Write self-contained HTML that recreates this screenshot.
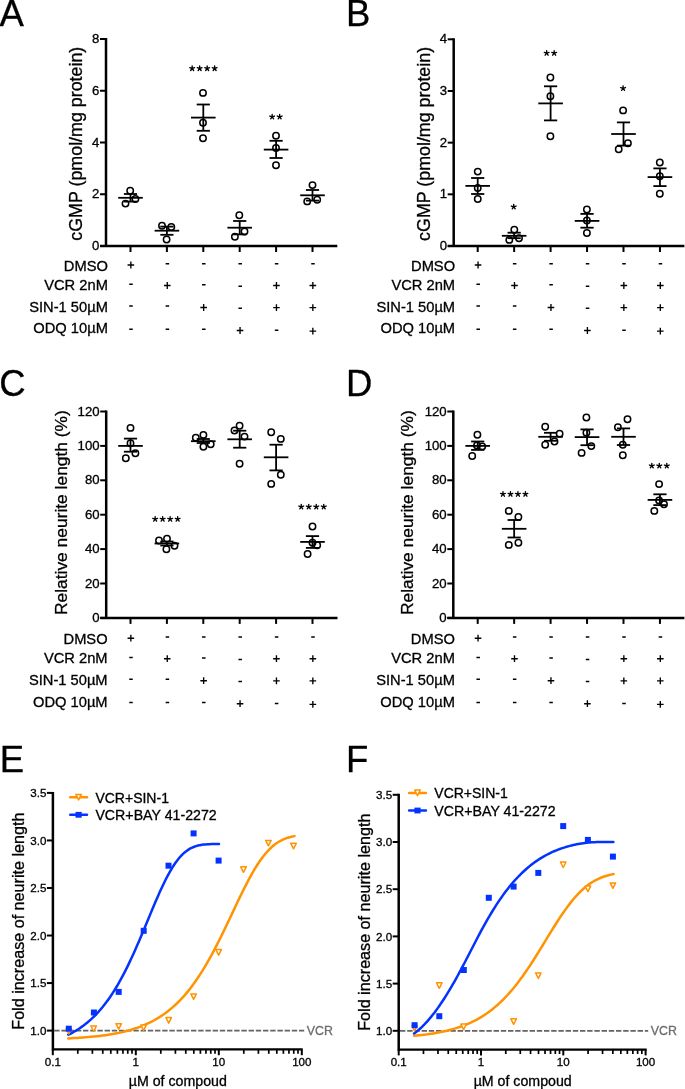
<!DOCTYPE html>
<html><head><meta charset="utf-8"><title>Figure</title>
<style>
html,body{margin:0;padding:0;background:#fff;}
body{width:685px;height:1089px;overflow:hidden;}
svg{display:block;font-family:"Liberation Sans", sans-serif;will-change:transform;}
</style></head>
<body>
<svg width="685" height="1089" viewBox="0 0 685 1089">
<rect width="685" height="1089" fill="#fff"/>
<text x="-0.50" y="25.80" font-size="36.5" text-anchor="start" fill="#000" stroke="#000" stroke-width="0.3" >A</text>
<text x="346.00" y="25.60" font-size="36.5" text-anchor="start" fill="#000" stroke="#000" stroke-width="0.3" >B</text>
<text x="-0.80" y="395.50" font-size="36.5" text-anchor="start" fill="#000" stroke="#000" stroke-width="0.3" >C</text>
<text x="346.00" y="395.50" font-size="36.5" text-anchor="start" fill="#000" stroke="#000" stroke-width="0.3" >D</text>
<text x="-0.30" y="771.90" font-size="36.5" text-anchor="start" fill="#000" stroke="#000" stroke-width="0.3" >E</text>
<text x="346.00" y="771.90" font-size="36.5" text-anchor="start" fill="#000" stroke="#000" stroke-width="0.3" >F</text>
<line x1="106.00" y1="38.00" x2="106.00" y2="246.00" stroke="#000" stroke-width="2.5" />
<line x1="100.00" y1="246.00" x2="337.30" y2="246.00" stroke="#000" stroke-width="2.5" />
<line x1="100.00" y1="246.00" x2="106.00" y2="246.00" stroke="#000" stroke-width="2" />
<text x="99.40" y="250.10" font-size="13.2" text-anchor="end" fill="#000" stroke="#000" stroke-width="0.3" >0</text>
<line x1="100.00" y1="194.25" x2="106.00" y2="194.25" stroke="#000" stroke-width="2" />
<text x="99.40" y="198.35" font-size="13.2" text-anchor="end" fill="#000" stroke="#000" stroke-width="0.3" >2</text>
<line x1="100.00" y1="142.50" x2="106.00" y2="142.50" stroke="#000" stroke-width="2" />
<text x="99.40" y="146.60" font-size="13.2" text-anchor="end" fill="#000" stroke="#000" stroke-width="0.3" >4</text>
<line x1="100.00" y1="90.75" x2="106.00" y2="90.75" stroke="#000" stroke-width="2" />
<text x="99.40" y="94.85" font-size="13.2" text-anchor="end" fill="#000" stroke="#000" stroke-width="0.3" >6</text>
<line x1="100.00" y1="39.00" x2="106.00" y2="39.00" stroke="#000" stroke-width="2" />
<text x="99.40" y="43.10" font-size="13.2" text-anchor="end" fill="#000" stroke="#000" stroke-width="0.3" >8</text>
<line x1="130.50" y1="246.00" x2="130.50" y2="252.00" stroke="#000" stroke-width="2" />
<line x1="166.90" y1="246.00" x2="166.90" y2="252.00" stroke="#000" stroke-width="2" />
<line x1="203.30" y1="246.00" x2="203.30" y2="252.00" stroke="#000" stroke-width="2" />
<line x1="239.70" y1="246.00" x2="239.70" y2="252.00" stroke="#000" stroke-width="2" />
<line x1="276.10" y1="246.00" x2="276.10" y2="252.00" stroke="#000" stroke-width="2" />
<line x1="312.50" y1="246.00" x2="312.50" y2="252.00" stroke="#000" stroke-width="2" />
<text transform="translate(82.30,143.70) rotate(-90)" font-size="17.85" text-anchor="middle" stroke="#000" stroke-width="0.3">cGMP (pmol/mg protein)</text>
<line x1="130.50" y1="194.00" x2="130.50" y2="201.60" stroke="#000" stroke-width="1.8" />
<line x1="123.90" y1="194.00" x2="137.10" y2="194.00" stroke="#000" stroke-width="1.8" />
<line x1="123.90" y1="201.60" x2="137.10" y2="201.60" stroke="#000" stroke-width="1.8" />
<line x1="118.20" y1="197.80" x2="142.80" y2="197.80" stroke="#000" stroke-width="1.8" />
<circle cx="130.20" cy="190.80" r="3.2" fill="none" stroke="#000" stroke-width="1.5"/>
<circle cx="135.40" cy="199.00" r="3.2" fill="none" stroke="#000" stroke-width="1.5"/>
<circle cx="125.50" cy="203.60" r="3.2" fill="none" stroke="#000" stroke-width="1.5"/>
<line x1="166.90" y1="226.60" x2="166.90" y2="234.80" stroke="#000" stroke-width="1.8" />
<line x1="160.30" y1="226.60" x2="173.50" y2="226.60" stroke="#000" stroke-width="1.8" />
<line x1="160.30" y1="234.80" x2="173.50" y2="234.80" stroke="#000" stroke-width="1.8" />
<line x1="154.60" y1="230.70" x2="179.20" y2="230.70" stroke="#000" stroke-width="1.8" />
<circle cx="162.00" cy="225.80" r="3.2" fill="none" stroke="#000" stroke-width="1.5"/>
<circle cx="171.30" cy="227.00" r="3.2" fill="none" stroke="#000" stroke-width="1.5"/>
<circle cx="166.60" cy="239.50" r="3.2" fill="none" stroke="#000" stroke-width="1.5"/>
<line x1="203.30" y1="104.50" x2="203.30" y2="130.80" stroke="#000" stroke-width="1.8" />
<line x1="196.70" y1="104.50" x2="209.90" y2="104.50" stroke="#000" stroke-width="1.8" />
<line x1="196.70" y1="130.80" x2="209.90" y2="130.80" stroke="#000" stroke-width="1.8" />
<line x1="191.00" y1="117.60" x2="215.60" y2="117.60" stroke="#000" stroke-width="1.8" />
<circle cx="203.00" cy="92.90" r="3.2" fill="none" stroke="#000" stroke-width="1.5"/>
<circle cx="203.00" cy="122.70" r="3.2" fill="none" stroke="#000" stroke-width="1.5"/>
<circle cx="203.00" cy="138.20" r="3.2" fill="none" stroke="#000" stroke-width="1.5"/>
<line x1="239.70" y1="221.00" x2="239.70" y2="234.40" stroke="#000" stroke-width="1.8" />
<line x1="233.10" y1="221.00" x2="246.30" y2="221.00" stroke="#000" stroke-width="1.8" />
<line x1="233.10" y1="234.40" x2="246.30" y2="234.40" stroke="#000" stroke-width="1.8" />
<line x1="227.40" y1="227.70" x2="252.00" y2="227.70" stroke="#000" stroke-width="1.8" />
<circle cx="239.30" cy="215.20" r="3.2" fill="none" stroke="#000" stroke-width="1.5"/>
<circle cx="244.50" cy="231.50" r="3.2" fill="none" stroke="#000" stroke-width="1.5"/>
<circle cx="234.90" cy="236.80" r="3.2" fill="none" stroke="#000" stroke-width="1.5"/>
<line x1="276.10" y1="140.80" x2="276.10" y2="158.00" stroke="#000" stroke-width="1.8" />
<line x1="269.50" y1="140.80" x2="282.70" y2="140.80" stroke="#000" stroke-width="1.8" />
<line x1="269.50" y1="158.00" x2="282.70" y2="158.00" stroke="#000" stroke-width="1.8" />
<line x1="263.80" y1="149.60" x2="288.40" y2="149.60" stroke="#000" stroke-width="1.8" />
<circle cx="276.00" cy="135.70" r="3.2" fill="none" stroke="#000" stroke-width="1.5"/>
<circle cx="276.00" cy="148.00" r="3.2" fill="none" stroke="#000" stroke-width="1.5"/>
<circle cx="276.00" cy="165.30" r="3.2" fill="none" stroke="#000" stroke-width="1.5"/>
<line x1="312.50" y1="190.00" x2="312.50" y2="200.60" stroke="#000" stroke-width="1.8" />
<line x1="305.90" y1="190.00" x2="319.10" y2="190.00" stroke="#000" stroke-width="1.8" />
<line x1="305.90" y1="200.60" x2="319.10" y2="200.60" stroke="#000" stroke-width="1.8" />
<line x1="300.20" y1="195.30" x2="324.80" y2="195.30" stroke="#000" stroke-width="1.8" />
<circle cx="312.50" cy="185.10" r="3.2" fill="none" stroke="#000" stroke-width="1.5"/>
<circle cx="307.20" cy="201.40" r="3.2" fill="none" stroke="#000" stroke-width="1.5"/>
<circle cx="317.20" cy="199.70" r="3.2" fill="none" stroke="#000" stroke-width="1.5"/>
<path d="M192.15,68.50L192.15,66.00M192.15,68.50L194.53,67.73M192.15,68.50L193.62,70.52M192.15,68.50L190.68,70.52M192.15,68.50L189.77,67.73M199.65,68.50L199.65,66.00M199.65,68.50L202.03,67.73M199.65,68.50L201.12,70.52M199.65,68.50L198.18,70.52M199.65,68.50L197.27,67.73M207.15,68.50L207.15,66.00M207.15,68.50L209.53,67.73M207.15,68.50L208.62,70.52M207.15,68.50L205.68,70.52M207.15,68.50L204.77,67.73M214.65,68.50L214.65,66.00M214.65,68.50L217.03,67.73M214.65,68.50L216.12,70.52M214.65,68.50L213.18,70.52M214.65,68.50L212.27,67.73" stroke="#000" stroke-width="1.35" stroke-linecap="round" fill="none"/>
<path d="M272.15,116.80L272.15,114.30M272.15,116.80L274.53,116.03M272.15,116.80L273.62,118.82M272.15,116.80L270.68,118.82M272.15,116.80L269.77,116.03M279.65,116.80L279.65,114.30M279.65,116.80L282.03,116.03M279.65,116.80L281.12,118.82M279.65,116.80L278.18,118.82M279.65,116.80L277.27,116.03" stroke="#000" stroke-width="1.35" stroke-linecap="round" fill="none"/>
<text x="107.90" y="270.80" font-size="14.7" text-anchor="end" fill="#000" stroke="#000" stroke-width="0.3" >DMSO</text>
<text x="107.90" y="290.30" font-size="14.7" text-anchor="end" fill="#000" stroke="#000" stroke-width="0.3" >VCR 2nM</text>
<text x="107.90" y="312.20" font-size="14.7" text-anchor="end" fill="#000" stroke="#000" stroke-width="0.3" >SIN-1 50µM</text>
<text x="107.90" y="332.70" font-size="14.7" text-anchor="end" fill="#000" stroke="#000" stroke-width="0.3" >ODQ 10µM</text>
<path d="M127.55,265.00H134.15M130.85,261.60V268.40M163.95,285.50H170.55M167.25,282.10V288.90M273.15,285.50H279.75M276.45,282.10V288.90M309.55,285.50H316.15M312.85,282.10V288.90M200.35,307.50H206.95M203.65,304.10V310.90M273.15,307.60H279.75M276.45,304.20V311.00M309.55,307.60H316.15M312.85,304.20V311.00M236.75,330.50H243.35M240.05,327.10V333.90M309.55,331.10H316.15M312.85,327.70V334.50" stroke="#000" stroke-width="1.35" fill="none"/>
<path d="M165.65,263.80H169.15M202.05,263.80H205.55M238.45,263.80H241.95M274.85,263.80H278.35M311.25,263.80H314.75M129.25,284.20H132.75M202.05,284.80H205.55M238.45,286.30H241.95M129.25,306.00H132.75M165.65,306.10H169.15M238.45,308.20H241.95M129.25,329.30H132.75M165.65,329.30H169.15M202.05,329.30H205.55M274.85,330.20H278.35" stroke="#000" stroke-width="1.5" fill="none"/>
<line x1="453.70" y1="38.30" x2="453.70" y2="246.00" stroke="#000" stroke-width="2.5" />
<line x1="447.70" y1="246.00" x2="684.40" y2="246.00" stroke="#000" stroke-width="2.5" />
<line x1="447.70" y1="246.00" x2="453.70" y2="246.00" stroke="#000" stroke-width="2" />
<text x="447.10" y="250.10" font-size="13.2" text-anchor="end" fill="#000" stroke="#000" stroke-width="0.3" >0</text>
<line x1="447.70" y1="194.32" x2="453.70" y2="194.32" stroke="#000" stroke-width="2" />
<text x="447.10" y="198.42" font-size="13.2" text-anchor="end" fill="#000" stroke="#000" stroke-width="0.3" >1</text>
<line x1="447.70" y1="142.65" x2="453.70" y2="142.65" stroke="#000" stroke-width="2" />
<text x="447.10" y="146.75" font-size="13.2" text-anchor="end" fill="#000" stroke="#000" stroke-width="0.3" >2</text>
<line x1="447.70" y1="90.98" x2="453.70" y2="90.98" stroke="#000" stroke-width="2" />
<text x="447.10" y="95.08" font-size="13.2" text-anchor="end" fill="#000" stroke="#000" stroke-width="0.3" >3</text>
<line x1="447.70" y1="39.30" x2="453.70" y2="39.30" stroke="#000" stroke-width="2" />
<text x="447.10" y="43.40" font-size="13.2" text-anchor="end" fill="#000" stroke="#000" stroke-width="0.3" >4</text>
<line x1="477.70" y1="246.00" x2="477.70" y2="252.00" stroke="#000" stroke-width="2" />
<line x1="514.15" y1="246.00" x2="514.15" y2="252.00" stroke="#000" stroke-width="2" />
<line x1="550.60" y1="246.00" x2="550.60" y2="252.00" stroke="#000" stroke-width="2" />
<line x1="587.05" y1="246.00" x2="587.05" y2="252.00" stroke="#000" stroke-width="2" />
<line x1="623.50" y1="246.00" x2="623.50" y2="252.00" stroke="#000" stroke-width="2" />
<line x1="659.95" y1="246.00" x2="659.95" y2="252.00" stroke="#000" stroke-width="2" />
<text transform="translate(429.50,143.90) rotate(-90)" font-size="17.85" text-anchor="middle" stroke="#000" stroke-width="0.3">cGMP (pmol/mg protein)</text>
<line x1="477.70" y1="178.00" x2="477.70" y2="194.00" stroke="#000" stroke-width="1.8" />
<line x1="471.10" y1="178.00" x2="484.30" y2="178.00" stroke="#000" stroke-width="1.8" />
<line x1="471.10" y1="194.00" x2="484.30" y2="194.00" stroke="#000" stroke-width="1.8" />
<line x1="465.40" y1="185.90" x2="490.00" y2="185.90" stroke="#000" stroke-width="1.8" />
<circle cx="477.75" cy="171.60" r="3.2" fill="none" stroke="#000" stroke-width="1.5"/>
<circle cx="477.75" cy="188.00" r="3.2" fill="none" stroke="#000" stroke-width="1.5"/>
<circle cx="477.75" cy="199.00" r="3.2" fill="none" stroke="#000" stroke-width="1.5"/>
<line x1="514.15" y1="232.70" x2="514.15" y2="238.20" stroke="#000" stroke-width="1.8" />
<line x1="507.55" y1="232.70" x2="520.75" y2="232.70" stroke="#000" stroke-width="1.8" />
<line x1="507.55" y1="238.20" x2="520.75" y2="238.20" stroke="#000" stroke-width="1.8" />
<line x1="501.85" y1="235.80" x2="526.45" y2="235.80" stroke="#000" stroke-width="1.8" />
<circle cx="514.30" cy="229.80" r="3.2" fill="none" stroke="#000" stroke-width="1.5"/>
<circle cx="509.30" cy="239.90" r="3.2" fill="none" stroke="#000" stroke-width="1.5"/>
<circle cx="519.00" cy="238.20" r="3.2" fill="none" stroke="#000" stroke-width="1.5"/>
<line x1="550.60" y1="86.30" x2="550.60" y2="120.40" stroke="#000" stroke-width="1.8" />
<line x1="544.00" y1="86.30" x2="557.20" y2="86.30" stroke="#000" stroke-width="1.8" />
<line x1="544.00" y1="120.40" x2="557.20" y2="120.40" stroke="#000" stroke-width="1.8" />
<line x1="538.30" y1="103.40" x2="562.90" y2="103.40" stroke="#000" stroke-width="1.8" />
<circle cx="550.40" cy="77.50" r="3.2" fill="none" stroke="#000" stroke-width="1.5"/>
<circle cx="550.40" cy="96.30" r="3.2" fill="none" stroke="#000" stroke-width="1.5"/>
<circle cx="550.40" cy="136.20" r="3.2" fill="none" stroke="#000" stroke-width="1.5"/>
<line x1="587.05" y1="213.90" x2="587.05" y2="227.70" stroke="#000" stroke-width="1.8" />
<line x1="580.45" y1="213.90" x2="593.65" y2="213.90" stroke="#000" stroke-width="1.8" />
<line x1="580.45" y1="227.70" x2="593.65" y2="227.70" stroke="#000" stroke-width="1.8" />
<line x1="574.75" y1="220.90" x2="599.35" y2="220.90" stroke="#000" stroke-width="1.8" />
<circle cx="586.90" cy="209.50" r="3.2" fill="none" stroke="#000" stroke-width="1.5"/>
<circle cx="586.90" cy="220.50" r="3.2" fill="none" stroke="#000" stroke-width="1.5"/>
<circle cx="586.90" cy="233.00" r="3.2" fill="none" stroke="#000" stroke-width="1.5"/>
<line x1="623.50" y1="122.40" x2="623.50" y2="145.60" stroke="#000" stroke-width="1.8" />
<line x1="616.90" y1="122.40" x2="630.10" y2="122.40" stroke="#000" stroke-width="1.8" />
<line x1="616.90" y1="145.60" x2="630.10" y2="145.60" stroke="#000" stroke-width="1.8" />
<line x1="611.20" y1="134.00" x2="635.80" y2="134.00" stroke="#000" stroke-width="1.8" />
<circle cx="623.10" cy="110.40" r="3.2" fill="none" stroke="#000" stroke-width="1.5"/>
<circle cx="627.90" cy="143.20" r="3.2" fill="none" stroke="#000" stroke-width="1.5"/>
<circle cx="618.70" cy="149.30" r="3.2" fill="none" stroke="#000" stroke-width="1.5"/>
<line x1="659.95" y1="168.40" x2="659.95" y2="186.10" stroke="#000" stroke-width="1.8" />
<line x1="653.35" y1="168.40" x2="666.55" y2="168.40" stroke="#000" stroke-width="1.8" />
<line x1="653.35" y1="186.10" x2="666.55" y2="186.10" stroke="#000" stroke-width="1.8" />
<line x1="647.65" y1="177.10" x2="672.25" y2="177.10" stroke="#000" stroke-width="1.8" />
<circle cx="659.80" cy="162.50" r="3.2" fill="none" stroke="#000" stroke-width="1.5"/>
<circle cx="659.80" cy="176.30" r="3.2" fill="none" stroke="#000" stroke-width="1.5"/>
<circle cx="659.80" cy="193.80" r="3.2" fill="none" stroke="#000" stroke-width="1.5"/>
<path d="M513.70,206.80L513.70,204.30M513.70,206.80L516.08,206.03M513.70,206.80L515.17,208.82M513.70,206.80L512.23,208.82M513.70,206.80L511.32,206.03" stroke="#000" stroke-width="1.35" stroke-linecap="round" fill="none"/>
<path d="M546.65,53.20L546.65,50.70M546.65,53.20L549.03,52.43M546.65,53.20L548.12,55.22M546.65,53.20L545.18,55.22M546.65,53.20L544.27,52.43M554.15,53.20L554.15,50.70M554.15,53.20L556.53,52.43M554.15,53.20L555.62,55.22M554.15,53.20L552.68,55.22M554.15,53.20L551.77,52.43" stroke="#000" stroke-width="1.35" stroke-linecap="round" fill="none"/>
<path d="M623.10,88.30L623.10,85.80M623.10,88.30L625.48,87.53M623.10,88.30L624.57,90.32M623.10,88.30L621.63,90.32M623.10,88.30L620.72,87.53" stroke="#000" stroke-width="1.35" stroke-linecap="round" fill="none"/>
<text x="455.10" y="270.80" font-size="14.7" text-anchor="end" fill="#000" stroke="#000" stroke-width="0.3" >DMSO</text>
<text x="455.10" y="290.30" font-size="14.7" text-anchor="end" fill="#000" stroke="#000" stroke-width="0.3" >VCR 2nM</text>
<text x="455.10" y="312.20" font-size="14.7" text-anchor="end" fill="#000" stroke="#000" stroke-width="0.3" >SIN-1 50µM</text>
<text x="455.10" y="332.70" font-size="14.7" text-anchor="end" fill="#000" stroke="#000" stroke-width="0.3" >ODQ 10µM</text>
<path d="M474.75,265.00H481.35M478.05,261.60V268.40M511.20,285.50H517.80M514.50,282.10V288.90M620.55,285.50H627.15M623.85,282.10V288.90M657.00,285.50H663.60M660.30,282.10V288.90M547.65,307.50H554.25M550.95,304.10V310.90M620.55,307.60H627.15M623.85,304.20V311.00M657.00,307.60H663.60M660.30,304.20V311.00M584.10,330.50H590.70M587.40,327.10V333.90M657.00,331.10H663.60M660.30,327.70V334.50" stroke="#000" stroke-width="1.35" fill="none"/>
<path d="M512.90,263.80H516.40M549.35,263.80H552.85M585.80,263.80H589.30M622.25,263.80H625.75M658.70,263.80H662.20M476.45,284.20H479.95M549.35,284.80H552.85M585.80,286.30H589.30M476.45,306.00H479.95M512.90,306.10H516.40M585.80,308.20H589.30M476.45,329.30H479.95M512.90,329.30H516.40M549.35,329.30H552.85M622.25,330.20H625.75" stroke="#000" stroke-width="1.5" fill="none"/>
<line x1="106.20" y1="410.50" x2="106.20" y2="617.90" stroke="#000" stroke-width="2.5" />
<line x1="100.20" y1="617.90" x2="337.50" y2="617.90" stroke="#000" stroke-width="2.5" />
<line x1="100.20" y1="617.90" x2="106.20" y2="617.90" stroke="#000" stroke-width="2" />
<text x="99.60" y="622.00" font-size="13.2" text-anchor="end" fill="#000" stroke="#000" stroke-width="0.3" >0</text>
<line x1="100.20" y1="583.50" x2="106.20" y2="583.50" stroke="#000" stroke-width="2" />
<text x="99.60" y="587.60" font-size="13.2" text-anchor="end" fill="#000" stroke="#000" stroke-width="0.3" >20</text>
<line x1="100.20" y1="549.10" x2="106.20" y2="549.10" stroke="#000" stroke-width="2" />
<text x="99.60" y="553.20" font-size="13.2" text-anchor="end" fill="#000" stroke="#000" stroke-width="0.3" >40</text>
<line x1="100.20" y1="514.70" x2="106.20" y2="514.70" stroke="#000" stroke-width="2" />
<text x="99.60" y="518.80" font-size="13.2" text-anchor="end" fill="#000" stroke="#000" stroke-width="0.3" >60</text>
<line x1="100.20" y1="480.30" x2="106.20" y2="480.30" stroke="#000" stroke-width="2" />
<text x="99.60" y="484.40" font-size="13.2" text-anchor="end" fill="#000" stroke="#000" stroke-width="0.3" >80</text>
<line x1="100.20" y1="445.90" x2="106.20" y2="445.90" stroke="#000" stroke-width="2" />
<text x="99.60" y="450.00" font-size="13.2" text-anchor="end" fill="#000" stroke="#000" stroke-width="0.3" >100</text>
<line x1="100.20" y1="411.50" x2="106.20" y2="411.50" stroke="#000" stroke-width="2" />
<text x="99.60" y="415.60" font-size="13.2" text-anchor="end" fill="#000" stroke="#000" stroke-width="0.3" >120</text>
<line x1="130.50" y1="617.90" x2="130.50" y2="623.90" stroke="#000" stroke-width="2" />
<line x1="166.90" y1="617.90" x2="166.90" y2="623.90" stroke="#000" stroke-width="2" />
<line x1="203.30" y1="617.90" x2="203.30" y2="623.90" stroke="#000" stroke-width="2" />
<line x1="239.70" y1="617.90" x2="239.70" y2="623.90" stroke="#000" stroke-width="2" />
<line x1="276.10" y1="617.90" x2="276.10" y2="623.90" stroke="#000" stroke-width="2" />
<line x1="312.50" y1="617.90" x2="312.50" y2="623.90" stroke="#000" stroke-width="2" />
<text transform="translate(66.70,512.60) rotate(-90)" font-size="17.4" text-anchor="middle" stroke="#000" stroke-width="0.3">Relative neurite length (%)</text>
<line x1="130.50" y1="438.60" x2="130.50" y2="451.70" stroke="#000" stroke-width="1.8" />
<line x1="123.90" y1="438.60" x2="137.10" y2="438.60" stroke="#000" stroke-width="1.8" />
<line x1="123.90" y1="451.70" x2="137.10" y2="451.70" stroke="#000" stroke-width="1.8" />
<line x1="118.20" y1="445.90" x2="142.80" y2="445.90" stroke="#000" stroke-width="1.8" />
<circle cx="130.50" cy="427.90" r="3.2" fill="none" stroke="#000" stroke-width="1.5"/>
<circle cx="130.50" cy="443.30" r="3.2" fill="none" stroke="#000" stroke-width="1.5"/>
<circle cx="135.40" cy="453.30" r="3.2" fill="none" stroke="#000" stroke-width="1.5"/>
<circle cx="125.80" cy="458.20" r="3.2" fill="none" stroke="#000" stroke-width="1.5"/>
<line x1="166.90" y1="541.50" x2="166.90" y2="545.50" stroke="#000" stroke-width="1.8" />
<line x1="160.30" y1="541.50" x2="173.50" y2="541.50" stroke="#000" stroke-width="1.8" />
<line x1="160.30" y1="545.50" x2="173.50" y2="545.50" stroke="#000" stroke-width="1.8" />
<line x1="154.60" y1="543.50" x2="179.20" y2="543.50" stroke="#000" stroke-width="1.8" />
<circle cx="159.00" cy="540.50" r="3.2" fill="none" stroke="#000" stroke-width="1.5"/>
<circle cx="167.00" cy="538.80" r="3.2" fill="none" stroke="#000" stroke-width="1.5"/>
<circle cx="174.50" cy="545.80" r="3.2" fill="none" stroke="#000" stroke-width="1.5"/>
<circle cx="166.40" cy="549.30" r="3.2" fill="none" stroke="#000" stroke-width="1.5"/>
<line x1="203.30" y1="439.00" x2="203.30" y2="443.00" stroke="#000" stroke-width="1.8" />
<line x1="196.70" y1="439.00" x2="209.90" y2="439.00" stroke="#000" stroke-width="1.8" />
<line x1="196.70" y1="443.00" x2="209.90" y2="443.00" stroke="#000" stroke-width="1.8" />
<line x1="191.00" y1="441.20" x2="215.60" y2="441.20" stroke="#000" stroke-width="1.8" />
<circle cx="195.80" cy="437.70" r="3.2" fill="none" stroke="#000" stroke-width="1.5"/>
<circle cx="203.40" cy="434.90" r="3.2" fill="none" stroke="#000" stroke-width="1.5"/>
<circle cx="210.70" cy="444.20" r="3.2" fill="none" stroke="#000" stroke-width="1.5"/>
<circle cx="203.40" cy="446.80" r="3.2" fill="none" stroke="#000" stroke-width="1.5"/>
<line x1="239.70" y1="430.70" x2="239.70" y2="447.70" stroke="#000" stroke-width="1.8" />
<line x1="233.10" y1="430.70" x2="246.30" y2="430.70" stroke="#000" stroke-width="1.8" />
<line x1="233.10" y1="447.70" x2="246.30" y2="447.70" stroke="#000" stroke-width="1.8" />
<line x1="227.40" y1="439.30" x2="252.00" y2="439.30" stroke="#000" stroke-width="1.8" />
<circle cx="239.60" cy="425.80" r="3.2" fill="none" stroke="#000" stroke-width="1.5"/>
<circle cx="234.50" cy="430.50" r="3.2" fill="none" stroke="#000" stroke-width="1.5"/>
<circle cx="244.50" cy="436.60" r="3.2" fill="none" stroke="#000" stroke-width="1.5"/>
<circle cx="239.60" cy="463.80" r="3.2" fill="none" stroke="#000" stroke-width="1.5"/>
<line x1="276.10" y1="444.70" x2="276.10" y2="470.40" stroke="#000" stroke-width="1.8" />
<line x1="269.50" y1="444.70" x2="282.70" y2="444.70" stroke="#000" stroke-width="1.8" />
<line x1="269.50" y1="470.40" x2="282.70" y2="470.40" stroke="#000" stroke-width="1.8" />
<line x1="263.80" y1="457.30" x2="288.40" y2="457.30" stroke="#000" stroke-width="1.8" />
<circle cx="271.20" cy="432.20" r="3.2" fill="none" stroke="#000" stroke-width="1.5"/>
<circle cx="280.80" cy="438.90" r="3.2" fill="none" stroke="#000" stroke-width="1.5"/>
<circle cx="280.80" cy="474.80" r="3.2" fill="none" stroke="#000" stroke-width="1.5"/>
<circle cx="271.20" cy="483.90" r="3.2" fill="none" stroke="#000" stroke-width="1.5"/>
<line x1="312.50" y1="536.10" x2="312.50" y2="547.90" stroke="#000" stroke-width="1.8" />
<line x1="305.90" y1="536.10" x2="319.10" y2="536.10" stroke="#000" stroke-width="1.8" />
<line x1="305.90" y1="547.90" x2="319.10" y2="547.90" stroke="#000" stroke-width="1.8" />
<line x1="300.20" y1="541.90" x2="324.80" y2="541.90" stroke="#000" stroke-width="1.8" />
<circle cx="312.50" cy="526.50" r="3.2" fill="none" stroke="#000" stroke-width="1.5"/>
<circle cx="312.50" cy="542.80" r="3.2" fill="none" stroke="#000" stroke-width="1.5"/>
<circle cx="317.20" cy="545.20" r="3.2" fill="none" stroke="#000" stroke-width="1.5"/>
<circle cx="307.60" cy="554.00" r="3.2" fill="none" stroke="#000" stroke-width="1.5"/>
<path d="M155.15,519.10L155.15,516.60M155.15,519.10L157.53,518.33M155.15,519.10L156.62,521.12M155.15,519.10L153.68,521.12M155.15,519.10L152.77,518.33M162.65,519.10L162.65,516.60M162.65,519.10L165.03,518.33M162.65,519.10L164.12,521.12M162.65,519.10L161.18,521.12M162.65,519.10L160.27,518.33M170.15,519.10L170.15,516.60M170.15,519.10L172.53,518.33M170.15,519.10L171.62,521.12M170.15,519.10L168.68,521.12M170.15,519.10L167.77,518.33M177.65,519.10L177.65,516.60M177.65,519.10L180.03,518.33M177.65,519.10L179.12,521.12M177.65,519.10L176.18,521.12M177.65,519.10L175.27,518.33" stroke="#000" stroke-width="1.35" stroke-linecap="round" fill="none"/>
<path d="M301.25,506.80L301.25,504.30M301.25,506.80L303.63,506.03M301.25,506.80L302.72,508.82M301.25,506.80L299.78,508.82M301.25,506.80L298.87,506.03M308.75,506.80L308.75,504.30M308.75,506.80L311.13,506.03M308.75,506.80L310.22,508.82M308.75,506.80L307.28,508.82M308.75,506.80L306.37,506.03M316.25,506.80L316.25,504.30M316.25,506.80L318.63,506.03M316.25,506.80L317.72,508.82M316.25,506.80L314.78,508.82M316.25,506.80L313.87,506.03M323.75,506.80L323.75,504.30M323.75,506.80L326.13,506.03M323.75,506.80L325.22,508.82M323.75,506.80L322.28,508.82M323.75,506.80L321.37,506.03" stroke="#000" stroke-width="1.35" stroke-linecap="round" fill="none"/>
<text x="107.60" y="643.70" font-size="14.7" text-anchor="end" fill="#000" stroke="#000" stroke-width="0.3" >DMSO</text>
<text x="107.60" y="663.20" font-size="14.7" text-anchor="end" fill="#000" stroke="#000" stroke-width="0.3" >VCR 2nM</text>
<text x="107.60" y="685.40" font-size="14.7" text-anchor="end" fill="#000" stroke="#000" stroke-width="0.3" >SIN-1 50µM</text>
<text x="107.60" y="706.70" font-size="14.7" text-anchor="end" fill="#000" stroke="#000" stroke-width="0.3" >ODQ 10µM</text>
<path d="M127.55,638.20H134.15M130.85,634.80V641.60M163.95,658.70H170.55M167.25,655.30V662.10M273.15,658.70H279.75M276.45,655.30V662.10M309.55,658.70H316.15M312.85,655.30V662.10M200.35,680.70H206.95M203.65,677.30V684.10M273.15,680.80H279.75M276.45,677.40V684.20M309.55,680.80H316.15M312.85,677.40V684.20M236.75,703.70H243.35M240.05,700.30V707.10M309.55,704.30H316.15M312.85,700.90V707.70" stroke="#000" stroke-width="1.35" fill="none"/>
<path d="M165.65,637.00H169.15M202.05,637.00H205.55M238.45,637.00H241.95M274.85,637.00H278.35M311.25,637.00H314.75M129.25,657.40H132.75M202.05,658.00H205.55M238.45,659.50H241.95M129.25,679.20H132.75M165.65,679.30H169.15M238.45,681.40H241.95M129.25,702.50H132.75M165.65,702.50H169.15M202.05,702.50H205.55M274.85,703.40H278.35" stroke="#000" stroke-width="1.5" fill="none"/>
<line x1="453.30" y1="410.50" x2="453.30" y2="617.90" stroke="#000" stroke-width="2.5" />
<line x1="447.30" y1="617.90" x2="684.40" y2="617.90" stroke="#000" stroke-width="2.5" />
<line x1="447.30" y1="617.90" x2="453.30" y2="617.90" stroke="#000" stroke-width="2" />
<text x="446.70" y="622.00" font-size="13.2" text-anchor="end" fill="#000" stroke="#000" stroke-width="0.3" >0</text>
<line x1="447.30" y1="583.50" x2="453.30" y2="583.50" stroke="#000" stroke-width="2" />
<text x="446.70" y="587.60" font-size="13.2" text-anchor="end" fill="#000" stroke="#000" stroke-width="0.3" >20</text>
<line x1="447.30" y1="549.10" x2="453.30" y2="549.10" stroke="#000" stroke-width="2" />
<text x="446.70" y="553.20" font-size="13.2" text-anchor="end" fill="#000" stroke="#000" stroke-width="0.3" >40</text>
<line x1="447.30" y1="514.70" x2="453.30" y2="514.70" stroke="#000" stroke-width="2" />
<text x="446.70" y="518.80" font-size="13.2" text-anchor="end" fill="#000" stroke="#000" stroke-width="0.3" >60</text>
<line x1="447.30" y1="480.30" x2="453.30" y2="480.30" stroke="#000" stroke-width="2" />
<text x="446.70" y="484.40" font-size="13.2" text-anchor="end" fill="#000" stroke="#000" stroke-width="0.3" >80</text>
<line x1="447.30" y1="445.90" x2="453.30" y2="445.90" stroke="#000" stroke-width="2" />
<text x="446.70" y="450.00" font-size="13.2" text-anchor="end" fill="#000" stroke="#000" stroke-width="0.3" >100</text>
<line x1="447.30" y1="411.50" x2="453.30" y2="411.50" stroke="#000" stroke-width="2" />
<text x="446.70" y="415.60" font-size="13.2" text-anchor="end" fill="#000" stroke="#000" stroke-width="0.3" >120</text>
<line x1="477.70" y1="617.90" x2="477.70" y2="623.90" stroke="#000" stroke-width="2" />
<line x1="514.15" y1="617.90" x2="514.15" y2="623.90" stroke="#000" stroke-width="2" />
<line x1="550.60" y1="617.90" x2="550.60" y2="623.90" stroke="#000" stroke-width="2" />
<line x1="587.05" y1="617.90" x2="587.05" y2="623.90" stroke="#000" stroke-width="2" />
<line x1="623.50" y1="617.90" x2="623.50" y2="623.90" stroke="#000" stroke-width="2" />
<line x1="659.95" y1="617.90" x2="659.95" y2="623.90" stroke="#000" stroke-width="2" />
<text transform="translate(413.30,512.60) rotate(-90)" font-size="17.4" text-anchor="middle" stroke="#000" stroke-width="0.3">Relative neurite length (%)</text>
<line x1="477.70" y1="441.50" x2="477.70" y2="449.90" stroke="#000" stroke-width="1.8" />
<line x1="471.10" y1="441.50" x2="484.30" y2="441.50" stroke="#000" stroke-width="1.8" />
<line x1="471.10" y1="449.90" x2="484.30" y2="449.90" stroke="#000" stroke-width="1.8" />
<line x1="465.40" y1="445.90" x2="490.00" y2="445.90" stroke="#000" stroke-width="1.8" />
<circle cx="477.40" cy="434.70" r="3.2" fill="none" stroke="#000" stroke-width="1.5"/>
<circle cx="477.00" cy="445.50" r="3.2" fill="none" stroke="#000" stroke-width="1.5"/>
<circle cx="482.20" cy="446.40" r="3.2" fill="none" stroke="#000" stroke-width="1.5"/>
<circle cx="472.20" cy="456.00" r="3.2" fill="none" stroke="#000" stroke-width="1.5"/>
<line x1="514.15" y1="520.00" x2="514.15" y2="537.50" stroke="#000" stroke-width="1.8" />
<line x1="507.55" y1="520.00" x2="520.75" y2="520.00" stroke="#000" stroke-width="1.8" />
<line x1="507.55" y1="537.50" x2="520.75" y2="537.50" stroke="#000" stroke-width="1.8" />
<line x1="501.85" y1="528.80" x2="526.45" y2="528.80" stroke="#000" stroke-width="1.8" />
<circle cx="508.80" cy="510.90" r="3.2" fill="none" stroke="#000" stroke-width="1.5"/>
<circle cx="518.40" cy="517.00" r="3.2" fill="none" stroke="#000" stroke-width="1.5"/>
<circle cx="518.40" cy="542.80" r="3.2" fill="none" stroke="#000" stroke-width="1.5"/>
<circle cx="508.80" cy="544.90" r="3.2" fill="none" stroke="#000" stroke-width="1.5"/>
<line x1="550.60" y1="432.80" x2="550.60" y2="440.80" stroke="#000" stroke-width="1.8" />
<line x1="544.00" y1="432.80" x2="557.20" y2="432.80" stroke="#000" stroke-width="1.8" />
<line x1="544.00" y1="440.80" x2="557.20" y2="440.80" stroke="#000" stroke-width="1.8" />
<line x1="538.30" y1="436.80" x2="562.90" y2="436.80" stroke="#000" stroke-width="1.8" />
<circle cx="545.20" cy="426.80" r="3.2" fill="none" stroke="#000" stroke-width="1.5"/>
<circle cx="559.60" cy="433.80" r="3.2" fill="none" stroke="#000" stroke-width="1.5"/>
<circle cx="554.50" cy="441.50" r="3.2" fill="none" stroke="#000" stroke-width="1.5"/>
<circle cx="545.20" cy="444.70" r="3.2" fill="none" stroke="#000" stroke-width="1.5"/>
<line x1="587.05" y1="429.40" x2="587.05" y2="445.20" stroke="#000" stroke-width="1.8" />
<line x1="580.45" y1="429.40" x2="593.65" y2="429.40" stroke="#000" stroke-width="1.8" />
<line x1="580.45" y1="445.20" x2="593.65" y2="445.20" stroke="#000" stroke-width="1.8" />
<line x1="574.75" y1="437.10" x2="599.35" y2="437.10" stroke="#000" stroke-width="1.8" />
<circle cx="586.40" cy="417.50" r="3.2" fill="none" stroke="#000" stroke-width="1.5"/>
<circle cx="586.40" cy="432.80" r="3.2" fill="none" stroke="#000" stroke-width="1.5"/>
<circle cx="591.30" cy="446.10" r="3.2" fill="none" stroke="#000" stroke-width="1.5"/>
<circle cx="581.60" cy="452.90" r="3.2" fill="none" stroke="#000" stroke-width="1.5"/>
<line x1="623.50" y1="428.40" x2="623.50" y2="445.00" stroke="#000" stroke-width="1.8" />
<line x1="616.90" y1="428.40" x2="630.10" y2="428.40" stroke="#000" stroke-width="1.8" />
<line x1="616.90" y1="445.00" x2="630.10" y2="445.00" stroke="#000" stroke-width="1.8" />
<line x1="611.20" y1="436.80" x2="635.80" y2="436.80" stroke="#000" stroke-width="1.8" />
<circle cx="627.50" cy="419.30" r="3.2" fill="none" stroke="#000" stroke-width="1.5"/>
<circle cx="617.90" cy="427.20" r="3.2" fill="none" stroke="#000" stroke-width="1.5"/>
<circle cx="622.80" cy="444.70" r="3.2" fill="none" stroke="#000" stroke-width="1.5"/>
<circle cx="622.80" cy="455.20" r="3.2" fill="none" stroke="#000" stroke-width="1.5"/>
<line x1="659.95" y1="494.30" x2="659.95" y2="505.10" stroke="#000" stroke-width="1.8" />
<line x1="653.35" y1="494.30" x2="666.55" y2="494.30" stroke="#000" stroke-width="1.8" />
<line x1="653.35" y1="505.10" x2="666.55" y2="505.10" stroke="#000" stroke-width="1.8" />
<line x1="647.65" y1="499.90" x2="672.25" y2="499.90" stroke="#000" stroke-width="1.8" />
<circle cx="659.10" cy="484.10" r="3.2" fill="none" stroke="#000" stroke-width="1.5"/>
<circle cx="659.10" cy="500.40" r="3.2" fill="none" stroke="#000" stroke-width="1.5"/>
<circle cx="664.00" cy="504.20" r="3.2" fill="none" stroke="#000" stroke-width="1.5"/>
<circle cx="654.30" cy="510.90" r="3.2" fill="none" stroke="#000" stroke-width="1.5"/>
<path d="M502.95,494.20L502.95,491.70M502.95,494.20L505.33,493.43M502.95,494.20L504.42,496.22M502.95,494.20L501.48,496.22M502.95,494.20L500.57,493.43M510.45,494.20L510.45,491.70M510.45,494.20L512.83,493.43M510.45,494.20L511.92,496.22M510.45,494.20L508.98,496.22M510.45,494.20L508.07,493.43M517.95,494.20L517.95,491.70M517.95,494.20L520.33,493.43M517.95,494.20L519.42,496.22M517.95,494.20L516.48,496.22M517.95,494.20L515.57,493.43M525.45,494.20L525.45,491.70M525.45,494.20L527.83,493.43M525.45,494.20L526.92,496.22M525.45,494.20L523.98,496.22M525.45,494.20L523.07,493.43" stroke="#000" stroke-width="1.35" stroke-linecap="round" fill="none"/>
<path d="M651.80,465.80L651.80,463.30M651.80,465.80L654.18,465.03M651.80,465.80L653.27,467.82M651.80,465.80L650.33,467.82M651.80,465.80L649.42,465.03M659.30,465.80L659.30,463.30M659.30,465.80L661.68,465.03M659.30,465.80L660.77,467.82M659.30,465.80L657.83,467.82M659.30,465.80L656.92,465.03M666.80,465.80L666.80,463.30M666.80,465.80L669.18,465.03M666.80,465.80L668.27,467.82M666.80,465.80L665.33,467.82M666.80,465.80L664.42,465.03" stroke="#000" stroke-width="1.35" stroke-linecap="round" fill="none"/>
<text x="454.90" y="643.70" font-size="14.7" text-anchor="end" fill="#000" stroke="#000" stroke-width="0.3" >DMSO</text>
<text x="454.90" y="663.20" font-size="14.7" text-anchor="end" fill="#000" stroke="#000" stroke-width="0.3" >VCR 2nM</text>
<text x="454.90" y="685.40" font-size="14.7" text-anchor="end" fill="#000" stroke="#000" stroke-width="0.3" >SIN-1 50µM</text>
<text x="454.90" y="706.70" font-size="14.7" text-anchor="end" fill="#000" stroke="#000" stroke-width="0.3" >ODQ 10µM</text>
<path d="M474.75,638.20H481.35M478.05,634.80V641.60M511.20,658.70H517.80M514.50,655.30V662.10M620.55,658.70H627.15M623.85,655.30V662.10M657.00,658.70H663.60M660.30,655.30V662.10M547.65,680.70H554.25M550.95,677.30V684.10M620.55,680.80H627.15M623.85,677.40V684.20M657.00,680.80H663.60M660.30,677.40V684.20M584.10,703.70H590.70M587.40,700.30V707.10M657.00,704.30H663.60M660.30,700.90V707.70" stroke="#000" stroke-width="1.35" fill="none"/>
<path d="M512.90,637.00H516.40M549.35,637.00H552.85M585.80,637.00H589.30M622.25,637.00H625.75M658.70,637.00H662.20M476.45,657.40H479.95M549.35,658.00H552.85M585.80,659.50H589.30M476.45,679.20H479.95M512.90,679.30H516.40M585.80,681.40H589.30M476.45,702.50H479.95M512.90,702.50H516.40M549.35,702.50H552.85M622.25,703.40H625.75" stroke="#000" stroke-width="1.5" fill="none"/>
<line x1="54.20" y1="1030.60" x2="304.20" y2="1030.60" stroke="#636363" stroke-width="1.8" stroke-dasharray="5.4 1.8"/>
<text x="306.70" y="1034.90" font-size="12.4" text-anchor="start" fill="#6e6e6e" stroke="#6e6e6e" stroke-width="0.3" >VCR</text>
<line x1="52.90" y1="791.90" x2="52.90" y2="1050.60" stroke="#000" stroke-width="2.5" />
<line x1="52.90" y1="1049.40" x2="302.70" y2="1049.40" stroke="#000" stroke-width="2.4" />
<line x1="46.90" y1="1030.60" x2="52.90" y2="1030.60" stroke="#000" stroke-width="2" />
<text x="46.40" y="1034.80" font-size="11.6" text-anchor="end" fill="#000" stroke="#000" stroke-width="0.3" >1.0</text>
<line x1="46.90" y1="983.06" x2="52.90" y2="983.06" stroke="#000" stroke-width="2" />
<text x="46.40" y="987.26" font-size="11.6" text-anchor="end" fill="#000" stroke="#000" stroke-width="0.3" >1.5</text>
<line x1="46.90" y1="935.52" x2="52.90" y2="935.52" stroke="#000" stroke-width="2" />
<text x="46.40" y="939.72" font-size="11.6" text-anchor="end" fill="#000" stroke="#000" stroke-width="0.3" >2.0</text>
<line x1="46.90" y1="887.98" x2="52.90" y2="887.98" stroke="#000" stroke-width="2" />
<text x="46.40" y="892.18" font-size="11.6" text-anchor="end" fill="#000" stroke="#000" stroke-width="0.3" >2.5</text>
<line x1="46.90" y1="840.44" x2="52.90" y2="840.44" stroke="#000" stroke-width="2" />
<text x="46.40" y="844.64" font-size="11.6" text-anchor="end" fill="#000" stroke="#000" stroke-width="0.3" >3.0</text>
<line x1="46.90" y1="792.90" x2="52.90" y2="792.90" stroke="#000" stroke-width="2" />
<text x="46.40" y="797.10" font-size="11.6" text-anchor="end" fill="#000" stroke="#000" stroke-width="0.3" >3.5</text>
<line x1="52.80" y1="1049.40" x2="52.80" y2="1055.20" stroke="#000" stroke-width="2" />
<line x1="77.79" y1="1049.40" x2="77.79" y2="1053.80" stroke="#000" stroke-width="1.7" />
<line x1="92.40" y1="1049.40" x2="92.40" y2="1053.80" stroke="#000" stroke-width="1.7" />
<line x1="102.77" y1="1049.40" x2="102.77" y2="1053.80" stroke="#000" stroke-width="1.7" />
<line x1="110.81" y1="1049.40" x2="110.81" y2="1053.80" stroke="#000" stroke-width="1.7" />
<line x1="117.39" y1="1049.40" x2="117.39" y2="1053.80" stroke="#000" stroke-width="1.7" />
<line x1="122.94" y1="1049.40" x2="122.94" y2="1053.80" stroke="#000" stroke-width="1.7" />
<line x1="127.76" y1="1049.40" x2="127.76" y2="1053.80" stroke="#000" stroke-width="1.7" />
<line x1="132.00" y1="1049.40" x2="132.00" y2="1053.80" stroke="#000" stroke-width="1.7" />
<line x1="135.80" y1="1049.40" x2="135.80" y2="1055.20" stroke="#000" stroke-width="2" />
<line x1="160.79" y1="1049.40" x2="160.79" y2="1053.80" stroke="#000" stroke-width="1.7" />
<line x1="175.40" y1="1049.40" x2="175.40" y2="1053.80" stroke="#000" stroke-width="1.7" />
<line x1="185.77" y1="1049.40" x2="185.77" y2="1053.80" stroke="#000" stroke-width="1.7" />
<line x1="193.81" y1="1049.40" x2="193.81" y2="1053.80" stroke="#000" stroke-width="1.7" />
<line x1="200.39" y1="1049.40" x2="200.39" y2="1053.80" stroke="#000" stroke-width="1.7" />
<line x1="205.94" y1="1049.40" x2="205.94" y2="1053.80" stroke="#000" stroke-width="1.7" />
<line x1="210.76" y1="1049.40" x2="210.76" y2="1053.80" stroke="#000" stroke-width="1.7" />
<line x1="215.00" y1="1049.40" x2="215.00" y2="1053.80" stroke="#000" stroke-width="1.7" />
<line x1="218.80" y1="1049.40" x2="218.80" y2="1055.20" stroke="#000" stroke-width="2" />
<line x1="243.79" y1="1049.40" x2="243.79" y2="1053.80" stroke="#000" stroke-width="1.7" />
<line x1="258.40" y1="1049.40" x2="258.40" y2="1053.80" stroke="#000" stroke-width="1.7" />
<line x1="268.77" y1="1049.40" x2="268.77" y2="1053.80" stroke="#000" stroke-width="1.7" />
<line x1="276.81" y1="1049.40" x2="276.81" y2="1053.80" stroke="#000" stroke-width="1.7" />
<line x1="283.39" y1="1049.40" x2="283.39" y2="1053.80" stroke="#000" stroke-width="1.7" />
<line x1="288.94" y1="1049.40" x2="288.94" y2="1053.80" stroke="#000" stroke-width="1.7" />
<line x1="293.76" y1="1049.40" x2="293.76" y2="1053.80" stroke="#000" stroke-width="1.7" />
<line x1="298.00" y1="1049.40" x2="298.00" y2="1053.80" stroke="#000" stroke-width="1.7" />
<line x1="301.80" y1="1049.40" x2="301.80" y2="1055.20" stroke="#000" stroke-width="2" />
<text x="52.80" y="1065.90" font-size="11.6" text-anchor="middle" fill="#000" stroke="#000" stroke-width="0.3" >0.1</text>
<text x="135.80" y="1065.90" font-size="11.6" text-anchor="middle" fill="#000" stroke="#000" stroke-width="0.3" >1</text>
<text x="218.80" y="1065.90" font-size="11.6" text-anchor="middle" fill="#000" stroke="#000" stroke-width="0.3" >10</text>
<text x="301.80" y="1065.90" font-size="11.6" text-anchor="middle" fill="#000" stroke="#000" stroke-width="0.3" >100</text>
<text x="177.80" y="1085.60" font-size="14.2" text-anchor="middle" fill="#000" stroke="#000" stroke-width="0.3" >µM of compoud</text>
<text transform="translate(24.00,921.15) rotate(-90)" font-size="16.15" text-anchor="middle" stroke="#000" stroke-width="0.3">Fold increase of neurite length</text>
<path d="M68.30,1038.43 L71.16,1038.28 L74.02,1038.12 L76.89,1037.95 L79.75,1037.76 L82.61,1037.55 L85.47,1037.33 L88.33,1037.09 L91.20,1036.83 L94.06,1036.54 L96.92,1036.23 L99.78,1035.90 L102.64,1035.53 L105.51,1035.14 L108.37,1034.71 L111.23,1034.24 L114.09,1033.74 L116.95,1033.19 L119.82,1032.60 L122.68,1031.95 L125.54,1031.26 L128.40,1030.50 L131.26,1029.69 L134.13,1028.80 L136.99,1027.85 L139.85,1026.81 L142.71,1025.69 L145.57,1024.49 L148.44,1023.18 L151.30,1021.78 L154.16,1020.26 L157.02,1018.63 L159.88,1016.87 L162.75,1014.98 L165.61,1012.95 L168.47,1010.76 L171.33,1008.42 L174.19,1005.92 L177.06,1003.24 L179.92,1000.38 L182.78,997.32 L185.64,994.07 L188.51,990.62 L191.37,986.96 L194.23,983.08 L197.09,978.98 L199.95,974.67 L202.82,970.14 L205.68,965.39 L208.54,960.44 L211.40,955.28 L214.26,949.93 L217.13,944.40 L219.99,938.72 L222.85,932.90 L225.71,926.98 L228.57,920.97 L231.44,914.92 L234.30,908.86 L237.16,902.83 L240.02,896.88 L242.88,891.04 L245.75,885.36 L248.61,879.88 L251.47,874.64 L254.33,869.69 L257.19,865.05 L260.06,860.75 L262.92,856.82 L265.78,853.26 L268.64,850.08 L271.50,847.28 L274.37,844.85 L277.23,842.77 L280.09,841.02 L282.95,839.57 L285.81,838.39 L288.68,837.44 L291.54,836.70 L294.40,836.12" fill="none" stroke="#ff9300" stroke-width="2.5" stroke-linecap="round"/>
<path d="M68.30,1034.73 L70.21,1033.79 L72.12,1032.79 L74.02,1031.73 L75.93,1030.62 L77.84,1029.44 L79.75,1028.20 L81.65,1026.89 L83.56,1025.51 L85.47,1024.05 L87.38,1022.51 L89.28,1020.89 L91.19,1019.19 L93.10,1017.39 L95.01,1015.51 L96.91,1013.52 L98.82,1011.44 L100.73,1009.26 L102.64,1006.97 L104.54,1004.57 L106.45,1002.06 L108.36,999.43 L110.27,996.69 L112.17,993.83 L114.08,990.85 L115.99,987.75 L117.90,984.52 L119.81,981.17 L121.71,977.70 L123.62,974.11 L125.53,970.40 L127.44,966.57 L129.34,962.63 L131.25,958.59 L133.16,954.44 L135.07,950.20 L136.97,945.87 L138.88,941.46 L140.79,936.99 L142.70,932.47 L144.60,927.90 L146.51,923.31 L148.42,918.71 L150.33,914.11 L152.23,909.54 L154.14,905.01 L156.05,900.54 L157.96,896.15 L159.86,891.86 L161.77,887.70 L163.68,883.67 L165.59,879.80 L167.49,876.10 L169.40,872.59 L171.31,869.29 L173.22,866.19 L175.13,863.32 L177.03,860.68 L178.94,858.27 L180.85,856.10 L182.76,854.15 L184.66,852.42 L186.57,850.91 L188.48,849.60 L190.39,848.47 L192.29,847.53 L194.20,846.74 L196.11,846.09 L198.02,845.57 L199.92,845.15 L201.83,844.83 L203.74,844.58 L205.65,844.39 L207.55,844.25 L209.46,844.15 L211.37,844.08 L213.28,844.03 L215.18,843.99 L217.09,843.97 L219.00,843.96" fill="none" stroke="#0433ff" stroke-width="2.5" stroke-linecap="round"/>
<path d="M66.05,1028.40 L71.55,1028.40 L68.80,1033.90 Z" fill="#fff" stroke="#ff9300" stroke-width="1.5" stroke-linejoin="round"/>
<path d="M90.95,1026.00 L96.45,1026.00 L93.70,1031.50 Z" fill="#fff" stroke="#ff9300" stroke-width="1.5" stroke-linejoin="round"/>
<path d="M115.95,1023.70 L121.45,1023.70 L118.70,1029.20 Z" fill="#fff" stroke="#ff9300" stroke-width="1.5" stroke-linejoin="round"/>
<path d="M140.85,1024.90 L146.35,1024.90 L143.60,1030.40 Z" fill="#fff" stroke="#ff9300" stroke-width="1.5" stroke-linejoin="round"/>
<path d="M165.95,1017.60 L171.45,1017.60 L168.70,1023.10 Z" fill="#fff" stroke="#ff9300" stroke-width="1.5" stroke-linejoin="round"/>
<path d="M190.85,993.90 L196.35,993.90 L193.60,999.40 Z" fill="#fff" stroke="#ff9300" stroke-width="1.5" stroke-linejoin="round"/>
<path d="M215.85,949.60 L221.35,949.60 L218.60,955.10 Z" fill="#fff" stroke="#ff9300" stroke-width="1.5" stroke-linejoin="round"/>
<path d="M240.75,866.80 L246.25,866.80 L243.50,872.30 Z" fill="#fff" stroke="#ff9300" stroke-width="1.5" stroke-linejoin="round"/>
<path d="M265.65,840.40 L271.15,840.40 L268.40,845.90 Z" fill="#fff" stroke="#ff9300" stroke-width="1.5" stroke-linejoin="round"/>
<path d="M290.75,843.30 L296.25,843.30 L293.50,848.80 Z" fill="#fff" stroke="#ff9300" stroke-width="1.5" stroke-linejoin="round"/>
<rect x="65.80" y="1025.70" width="6" height="6" fill="#0433ff"/>
<rect x="90.90" y="1009.50" width="6" height="6" fill="#0433ff"/>
<rect x="115.70" y="988.90" width="6" height="6" fill="#0433ff"/>
<rect x="140.70" y="927.80" width="6" height="6" fill="#0433ff"/>
<rect x="165.50" y="862.70" width="6" height="6" fill="#0433ff"/>
<rect x="190.60" y="830.40" width="6" height="6" fill="#0433ff"/>
<rect x="215.60" y="857.60" width="6" height="6" fill="#0433ff"/>
<line x1="70.20" y1="797.30" x2="87.00" y2="797.30" stroke="#ff9300" stroke-width="2.4" stroke-linecap="round"/>
<path d="M75.85,794.40 L81.35,794.40 L78.60,799.90 Z" fill="#fff" stroke="#ff9300" stroke-width="1.5" stroke-linejoin="round"/>
<line x1="70.20" y1="814.80" x2="87.00" y2="814.80" stroke="#0433ff" stroke-width="2.4" stroke-linecap="round"/>
<rect x="75.50" y="811.90" width="6.2" height="5.8" fill="#0433ff"/>
<text x="95.40" y="802.60" font-size="14" text-anchor="start" fill="#000" stroke="#000" stroke-width="0.3" >VCR+SIN-1</text>
<text x="95.40" y="820.10" font-size="14.2" text-anchor="start" fill="#000" stroke="#000" stroke-width="0.3" >VCR+BAY 41-2272</text>
<line x1="400.00" y1="1030.80" x2="648.20" y2="1030.80" stroke="#636363" stroke-width="1.8" stroke-dasharray="5.4 1.8"/>
<text x="650.70" y="1035.10" font-size="12.4" text-anchor="start" fill="#6e6e6e" stroke="#6e6e6e" stroke-width="0.3" >VCR</text>
<line x1="398.70" y1="793.80" x2="398.70" y2="1050.80" stroke="#000" stroke-width="2.5" />
<line x1="398.70" y1="1049.60" x2="646.70" y2="1049.60" stroke="#000" stroke-width="2.4" />
<line x1="392.70" y1="1030.80" x2="398.70" y2="1030.80" stroke="#000" stroke-width="2" />
<text x="392.20" y="1035.00" font-size="11.6" text-anchor="end" fill="#000" stroke="#000" stroke-width="0.3" >1.0</text>
<line x1="392.70" y1="983.60" x2="398.70" y2="983.60" stroke="#000" stroke-width="2" />
<text x="392.20" y="987.80" font-size="11.6" text-anchor="end" fill="#000" stroke="#000" stroke-width="0.3" >1.5</text>
<line x1="392.70" y1="936.40" x2="398.70" y2="936.40" stroke="#000" stroke-width="2" />
<text x="392.20" y="940.60" font-size="11.6" text-anchor="end" fill="#000" stroke="#000" stroke-width="0.3" >2.0</text>
<line x1="392.70" y1="889.20" x2="398.70" y2="889.20" stroke="#000" stroke-width="2" />
<text x="392.20" y="893.40" font-size="11.6" text-anchor="end" fill="#000" stroke="#000" stroke-width="0.3" >2.5</text>
<line x1="392.70" y1="842.00" x2="398.70" y2="842.00" stroke="#000" stroke-width="2" />
<text x="392.20" y="846.20" font-size="11.6" text-anchor="end" fill="#000" stroke="#000" stroke-width="0.3" >3.0</text>
<line x1="392.70" y1="794.80" x2="398.70" y2="794.80" stroke="#000" stroke-width="2" />
<text x="392.20" y="799.00" font-size="11.6" text-anchor="end" fill="#000" stroke="#000" stroke-width="0.3" >3.5</text>
<line x1="398.70" y1="1049.60" x2="398.70" y2="1055.40" stroke="#000" stroke-width="2" />
<line x1="423.47" y1="1049.60" x2="423.47" y2="1054.00" stroke="#000" stroke-width="1.7" />
<line x1="437.97" y1="1049.60" x2="437.97" y2="1054.00" stroke="#000" stroke-width="1.7" />
<line x1="448.25" y1="1049.60" x2="448.25" y2="1054.00" stroke="#000" stroke-width="1.7" />
<line x1="456.23" y1="1049.60" x2="456.23" y2="1054.00" stroke="#000" stroke-width="1.7" />
<line x1="462.74" y1="1049.60" x2="462.74" y2="1054.00" stroke="#000" stroke-width="1.7" />
<line x1="468.25" y1="1049.60" x2="468.25" y2="1054.00" stroke="#000" stroke-width="1.7" />
<line x1="473.02" y1="1049.60" x2="473.02" y2="1054.00" stroke="#000" stroke-width="1.7" />
<line x1="477.23" y1="1049.60" x2="477.23" y2="1054.00" stroke="#000" stroke-width="1.7" />
<line x1="481.00" y1="1049.60" x2="481.00" y2="1055.40" stroke="#000" stroke-width="2" />
<line x1="505.77" y1="1049.60" x2="505.77" y2="1054.00" stroke="#000" stroke-width="1.7" />
<line x1="520.27" y1="1049.60" x2="520.27" y2="1054.00" stroke="#000" stroke-width="1.7" />
<line x1="530.55" y1="1049.60" x2="530.55" y2="1054.00" stroke="#000" stroke-width="1.7" />
<line x1="538.53" y1="1049.60" x2="538.53" y2="1054.00" stroke="#000" stroke-width="1.7" />
<line x1="545.04" y1="1049.60" x2="545.04" y2="1054.00" stroke="#000" stroke-width="1.7" />
<line x1="550.55" y1="1049.60" x2="550.55" y2="1054.00" stroke="#000" stroke-width="1.7" />
<line x1="555.32" y1="1049.60" x2="555.32" y2="1054.00" stroke="#000" stroke-width="1.7" />
<line x1="559.53" y1="1049.60" x2="559.53" y2="1054.00" stroke="#000" stroke-width="1.7" />
<line x1="563.30" y1="1049.60" x2="563.30" y2="1055.40" stroke="#000" stroke-width="2" />
<line x1="588.07" y1="1049.60" x2="588.07" y2="1054.00" stroke="#000" stroke-width="1.7" />
<line x1="602.57" y1="1049.60" x2="602.57" y2="1054.00" stroke="#000" stroke-width="1.7" />
<line x1="612.85" y1="1049.60" x2="612.85" y2="1054.00" stroke="#000" stroke-width="1.7" />
<line x1="620.83" y1="1049.60" x2="620.83" y2="1054.00" stroke="#000" stroke-width="1.7" />
<line x1="627.34" y1="1049.60" x2="627.34" y2="1054.00" stroke="#000" stroke-width="1.7" />
<line x1="632.85" y1="1049.60" x2="632.85" y2="1054.00" stroke="#000" stroke-width="1.7" />
<line x1="637.62" y1="1049.60" x2="637.62" y2="1054.00" stroke="#000" stroke-width="1.7" />
<line x1="641.83" y1="1049.60" x2="641.83" y2="1054.00" stroke="#000" stroke-width="1.7" />
<line x1="645.60" y1="1049.60" x2="645.60" y2="1055.40" stroke="#000" stroke-width="2" />
<text x="398.70" y="1065.90" font-size="11.6" text-anchor="middle" fill="#000" stroke="#000" stroke-width="0.3" >0.1</text>
<text x="481.00" y="1065.90" font-size="11.6" text-anchor="middle" fill="#000" stroke="#000" stroke-width="0.3" >1</text>
<text x="563.30" y="1065.90" font-size="11.6" text-anchor="middle" fill="#000" stroke="#000" stroke-width="0.3" >10</text>
<text x="645.60" y="1065.90" font-size="11.6" text-anchor="middle" fill="#000" stroke="#000" stroke-width="0.3" >100</text>
<text x="522.70" y="1085.60" font-size="14.2" text-anchor="middle" fill="#000" stroke="#000" stroke-width="0.3" >µM of compoud</text>
<text transform="translate(370.00,922.20) rotate(-90)" font-size="16.15" text-anchor="middle" stroke="#000" stroke-width="0.3">Fold increase of neurite length</text>
<path d="M414.20,1035.81 L416.72,1035.56 L419.25,1035.30 L421.77,1035.02 L424.29,1034.71 L426.81,1034.38 L429.34,1034.03 L431.86,1033.65 L434.38,1033.24 L436.91,1032.80 L439.43,1032.33 L441.95,1031.82 L444.47,1031.28 L447.00,1030.69 L449.52,1030.06 L452.04,1029.38 L454.56,1028.65 L457.09,1027.87 L459.61,1027.04 L462.13,1026.14 L464.66,1025.18 L467.18,1024.16 L469.70,1023.06 L472.22,1021.88 L474.75,1020.63 L477.27,1019.29 L479.79,1017.86 L482.32,1016.34 L484.84,1014.71 L487.36,1012.99 L489.88,1011.16 L492.41,1009.22 L494.93,1007.16 L497.45,1004.98 L499.97,1002.68 L502.50,1000.26 L505.02,997.70 L507.54,995.02 L510.07,992.20 L512.59,989.25 L515.11,986.17 L517.63,982.96 L520.16,979.62 L522.68,976.15 L525.20,972.57 L527.73,968.88 L530.25,965.09 L532.77,961.21 L535.29,957.24 L537.82,953.21 L540.34,949.12 L542.86,945.00 L545.38,940.86 L547.91,936.72 L550.43,932.60 L552.95,928.51 L555.48,924.49 L558.00,920.54 L560.52,916.69 L563.04,912.96 L565.57,909.36 L568.09,905.91 L570.61,902.62 L573.14,899.51 L575.66,896.58 L578.18,893.85 L580.70,891.31 L583.23,888.97 L585.75,886.82 L588.27,884.87 L590.79,883.10 L593.32,881.52 L595.84,880.10 L598.36,878.85 L600.89,877.75 L603.41,876.79 L605.93,875.95 L608.45,875.23 L610.98,874.61 L613.50,874.08" fill="none" stroke="#ff9300" stroke-width="2.5" stroke-linecap="round"/>
<path d="M414.10,1033.53 L415.77,1032.29 L417.45,1030.96 L419.12,1029.54 L420.80,1028.03 L422.47,1026.43 L424.15,1024.74 L425.82,1022.97 L427.50,1021.12 L429.17,1019.18 L430.85,1017.17 L432.52,1015.08 L434.20,1012.92 L435.87,1010.68 L437.55,1008.37 L439.22,1005.99 L440.90,1003.55 L442.57,1001.04 L444.25,998.46 L445.92,995.82 L447.60,993.12 L449.27,990.37 L450.95,987.55 L452.62,984.68 L454.29,981.76 L455.97,978.79 L457.64,975.77 L459.32,972.70 L460.99,969.58 L462.67,966.43 L464.34,963.23 L466.02,960.01 L467.69,956.77 L469.37,953.51 L471.04,950.24 L472.72,946.98 L474.39,943.73 L476.07,940.49 L477.74,937.28 L479.42,934.10 L481.09,930.95 L482.77,927.86 L484.44,924.82 L486.12,921.83 L487.79,918.91 L489.47,916.04 L491.14,913.24 L492.82,910.50 L494.49,907.81 L496.16,905.20 L497.84,902.64 L499.51,900.15 L501.19,897.72 L502.86,895.35 L504.54,893.05 L506.21,890.82 L507.89,888.65 L509.56,886.54 L511.24,884.51 L512.91,882.53 L514.59,880.63 L516.26,878.78 L517.94,877.00 L519.61,875.28 L521.29,873.61 L522.96,872.01 L524.64,870.46 L526.31,868.97 L527.99,867.53 L529.66,866.15 L531.34,864.81 L533.01,863.53 L534.68,862.30 L536.36,861.12 L538.03,859.98 L539.71,858.89 L541.38,857.85 L543.06,856.85 L544.73,855.89 L546.41,854.98 L548.08,854.10 L549.76,853.27 L551.43,852.47 L553.11,851.71 L554.78,850.99 L556.46,850.30 L558.13,849.64 L559.81,849.02 L561.48,848.42 L563.16,847.86 L564.83,847.32 L566.51,846.82 L568.18,846.34 L569.86,845.88 L571.53,845.45 L573.21,845.05 L574.88,844.68 L576.55,844.33 L578.23,844.00 L579.90,843.70 L581.58,843.43 L583.25,843.18 L584.93,842.96 L586.60,842.76 L588.28,842.58 L589.95,842.43 L591.63,842.31 L593.30,842.20 L594.98,842.13 L596.65,842.07 L598.33,842.04 L600.00,842.03 L601.68,842.03 L603.35,842.03 L605.03,842.03 L606.70,842.03 L608.38,842.03 L610.05,842.03 L611.73,842.03 L613.40,842.03" fill="none" stroke="#0433ff" stroke-width="2.5" stroke-linecap="round"/>
<path d="M411.85,1025.40 L417.35,1025.40 L414.60,1030.90 Z" fill="#fff" stroke="#ff9300" stroke-width="1.5" stroke-linejoin="round"/>
<path d="M436.55,982.80 L442.05,982.80 L439.30,988.30 Z" fill="#fff" stroke="#ff9300" stroke-width="1.5" stroke-linejoin="round"/>
<path d="M460.85,1024.10 L466.35,1024.10 L463.60,1029.60 Z" fill="#fff" stroke="#ff9300" stroke-width="1.5" stroke-linejoin="round"/>
<path d="M510.85,1018.80 L516.35,1018.80 L513.60,1024.30 Z" fill="#fff" stroke="#ff9300" stroke-width="1.5" stroke-linejoin="round"/>
<path d="M535.55,972.90 L541.05,972.90 L538.30,978.40 Z" fill="#fff" stroke="#ff9300" stroke-width="1.5" stroke-linejoin="round"/>
<path d="M560.45,862.00 L565.95,862.00 L563.20,867.50 Z" fill="#fff" stroke="#ff9300" stroke-width="1.5" stroke-linejoin="round"/>
<path d="M585.15,886.10 L590.65,886.10 L587.90,891.60 Z" fill="#fff" stroke="#ff9300" stroke-width="1.5" stroke-linejoin="round"/>
<path d="M610.15,882.90 L615.65,882.90 L612.90,888.40 Z" fill="#fff" stroke="#ff9300" stroke-width="1.5" stroke-linejoin="round"/>
<rect x="411.60" y="1022.20" width="6" height="6" fill="#0433ff"/>
<rect x="436.30" y="1013.20" width="6" height="6" fill="#0433ff"/>
<rect x="460.80" y="967.00" width="6" height="6" fill="#0433ff"/>
<rect x="485.80" y="894.80" width="6" height="6" fill="#0433ff"/>
<rect x="510.60" y="883.60" width="6" height="6" fill="#0433ff"/>
<rect x="535.30" y="869.90" width="6" height="6" fill="#0433ff"/>
<rect x="560.20" y="823.10" width="6" height="6" fill="#0433ff"/>
<rect x="584.90" y="836.90" width="6" height="6" fill="#0433ff"/>
<rect x="609.90" y="853.60" width="6" height="6" fill="#0433ff"/>
<line x1="409.10" y1="793.00" x2="425.90" y2="793.00" stroke="#ff9300" stroke-width="2.4" stroke-linecap="round"/>
<path d="M414.75,790.10 L420.25,790.10 L417.50,795.60 Z" fill="#fff" stroke="#ff9300" stroke-width="1.5" stroke-linejoin="round"/>
<line x1="409.10" y1="810.50" x2="425.90" y2="810.50" stroke="#0433ff" stroke-width="2.4" stroke-linecap="round"/>
<rect x="414.40" y="807.60" width="6.2" height="5.8" fill="#0433ff"/>
<text x="434.30" y="798.30" font-size="14" text-anchor="start" fill="#000" stroke="#000" stroke-width="0.3" >VCR+SIN-1</text>
<text x="434.30" y="815.80" font-size="14.2" text-anchor="start" fill="#000" stroke="#000" stroke-width="0.3" >VCR+BAY 41-2272</text>
</svg>
</body></html>
